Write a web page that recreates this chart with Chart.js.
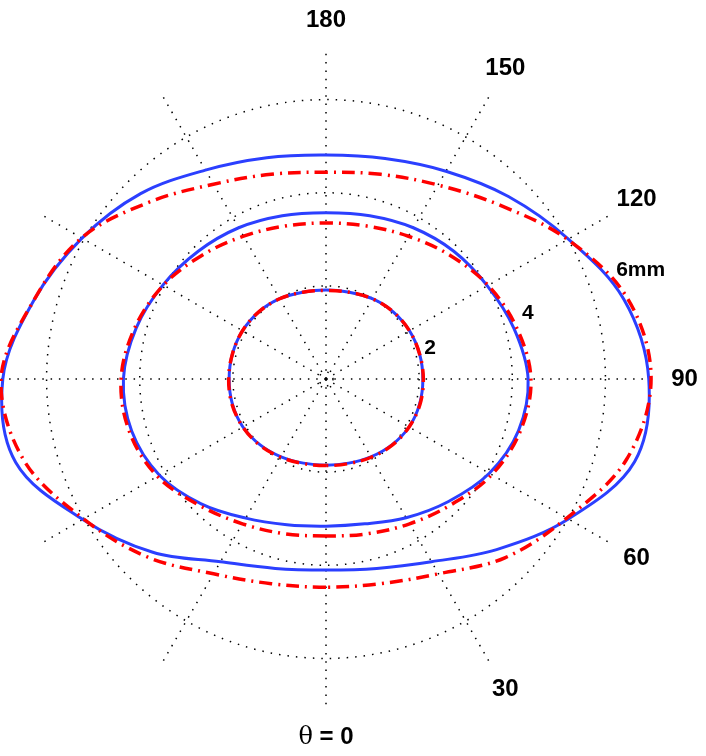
<!DOCTYPE html>
<html lang="en">

<head>
  <meta charset="UTF-8">
  <title>Polar contours</title>
  <script src="https://cdn.jsdelivr.net/npm/chart.js"></script>
  <style>
    html, body { margin: 0; padding: 0; background: #fff; overflow: hidden; }
    .box { position: absolute; left: 0; top: 0; width: 706px; height: 758px; }
  </style>
</head>

<body>

  <div class="box">
    <canvas id="polar-chart"></canvas>
  </div>

</body>

</html>

<script>

  // angles (deg), theta = 0 points down, grows towards the right
  const thetas = [0, 15, 30, 45, 60, 75, 90, 105, 120, 135, 150, 165,
    180, 195, 210, 225, 240, 255, 270, 285, 300, 315, 330, 345];

  // blue solid curves
  const blue2 = [1.85, 1.87, 1.93, 2.00, 2.06, 2.08, 2.08, 2.08, 2.07, 2.04, 1.99, 1.93,
    1.91, 1.93, 1.99, 2.04, 2.07, 2.08, 2.08, 2.08, 2.06, 2.00, 1.93, 1.87];
  const blue4 = [3.16, 3.22, 3.44, 3.72, 4.05, 4.28, 4.34, 4.18, 4.00, 3.88, 3.75, 3.63,
    3.57, 3.63, 3.75, 3.88, 4.04, 4.22, 4.35, 4.32, 4.13, 3.79, 3.45, 3.24];
  const blue6 = [4.10, 4.21, 4.53, 5.18, 6.01, 6.86, 6.93, 6.62, 6.01, 5.54, 5.15, 4.90,
    4.81, 4.92, 5.18, 5.63, 6.05, 6.50, 6.94, 6.90, 6.03, 5.26, 4.53, 4.21];

  // red dash-dot curves
  const red2 = [1.86, 1.88, 1.94, 2.01, 2.06, 2.09, 2.09, 2.08, 2.07, 2.04, 1.99, 1.93,
    1.90, 1.93, 1.99, 2.04, 2.07, 2.08, 2.09, 2.09, 2.06, 2.01, 1.94, 1.88];
  const red4 = [3.37, 3.44, 3.59, 3.81, 4.11, 4.32, 4.40, 4.24, 4.02, 3.76, 3.54, 3.40,
    3.35, 3.40, 3.54, 3.76, 4.03, 4.25, 4.40, 4.37, 4.18, 3.84, 3.59, 3.44];
  const red6 = [4.47, 4.55, 4.83, 5.43, 5.97, 6.68, 6.98, 6.70, 5.99, 5.28, 4.81, 4.55,
    4.44, 4.55, 4.83, 5.37, 6.06, 6.50, 6.98, 6.72, 6.01, 5.41, 4.83, 4.55];

  // grid rings and angle labels
  const ringValues = [0, 0.15, 2, 4, 6];
  const angleTicks = [0, 30, 60, 90, 120, 150, 180];
  const curveNames = ['2', '4', '6mm'];

  // radar goes clockwise from the bottom, so walk the angles backwards
  const order = thetas.map((t, i) => (360 - i * 15) % 360);
  const pick = (arr) => order.map(t => arr[thetas.indexOf(t)]);

  const BLUE = '#2b3fff';
  const RED = '#ff0000';

  const textPlugin = {
    id: 'polarText',
    afterDraw(chart) {
      const s = chart.scales.r;
      const c = chart.ctx;
      const at = (deg, v) => {
        const d = s.getDistanceFromCenterForValue(v);
        const a = deg * Math.PI / 180;
        return { x: s.xCenter + d * Math.sin(a), y: s.yCenter + d * Math.cos(a) };
      };
      c.save();
      c.fillStyle = '#000';
      c.textBaseline = 'middle';

      // angle labels
      angleTicks.forEach(t => {
        const p = at(t, 7.7);
        c.font = 'bold 24px "Liberation Sans", Arial, sans-serif';
        if (t === 0) {
          const rest = ' = ' + t;
          const wRest = c.measureText(rest).width;
          c.font = '24px "DejaVu Serif", "Liberation Serif", serif';
          const wTh = c.measureText('θ').width;
          const x0 = p.x - (wTh + wRest) / 2;
          c.textAlign = 'left';
          c.fillText('θ', x0, p.y);
          c.font = 'bold 24px "Liberation Sans", Arial, sans-serif';
          c.fillText(rest, x0 + wTh, p.y);
        } else {
          c.textAlign = 'center';
          c.fillText(String(t), p.x, p.y);
        }
      });

      // curve labels
      const spots = [[106.6, 2.33], [108.1, 4.56], [109.1, 7.15]];
      c.font = 'bold 21px "Liberation Sans", Arial, sans-serif';
      c.textAlign = 'center';
      curveNames.forEach((n, i) => {
        const p = at(spots[i][0], spots[i][1]);
        c.fillText(n, p.x, p.y);
      });
      c.restore();
    }
  };

  const ctx = document.getElementById('polar-chart');

  const line = (data, color, dashed) => ({
    data: pick(data),
    borderColor: color,
    borderWidth: dashed ? 3.5 : 3,
    borderDash: dashed ? [13, 6, 2, 6] : [],
    pointRadius: 0,
    pointHoverRadius: 0,
    fill: false,
    tension: 0.35,
    order: dashed ? 0 : 1
  });

  new Chart(ctx, {
    type: 'radar',
    data: {
      labels: order,
      datasets: [
        line(blue6, BLUE, false),
        line(blue4, BLUE, false),
        line(blue2, BLUE, false),
        line(red6, RED, true),
        line(red4, RED, true),
        line(red2, RED, true)
      ]
    },
    options: {
      responsive: true,
      maintainAspectRatio: false,
      animation: false,
      layout: { padding: { right: 54 } },
      plugins: {
        legend: { display: false },
        tooltip: { enabled: false }
      },
      scales: {
        r: {
          min: 0,
          max: 7,
          startAngle: 180,
          afterBuildTicks: (axis) => {
            axis.ticks = ringValues.map(v => ({ value: v }));
          },
          ticks: { display: false },
          pointLabels: { display: false },
          grid: {
            circular: true,
            color: '#000',
            lineWidth: 1.5
          },
          border: { dash: [1.5, 7] },
          angleLines: {
            color: '#000',
            lineWidth: (c) => (order[c.index] % 30 === 0 ? 1.5 : 0),
            borderDash: [1.5, 6.8]
          }
        }
      }
    },
    plugins: [textPlugin]
  });

</script>
